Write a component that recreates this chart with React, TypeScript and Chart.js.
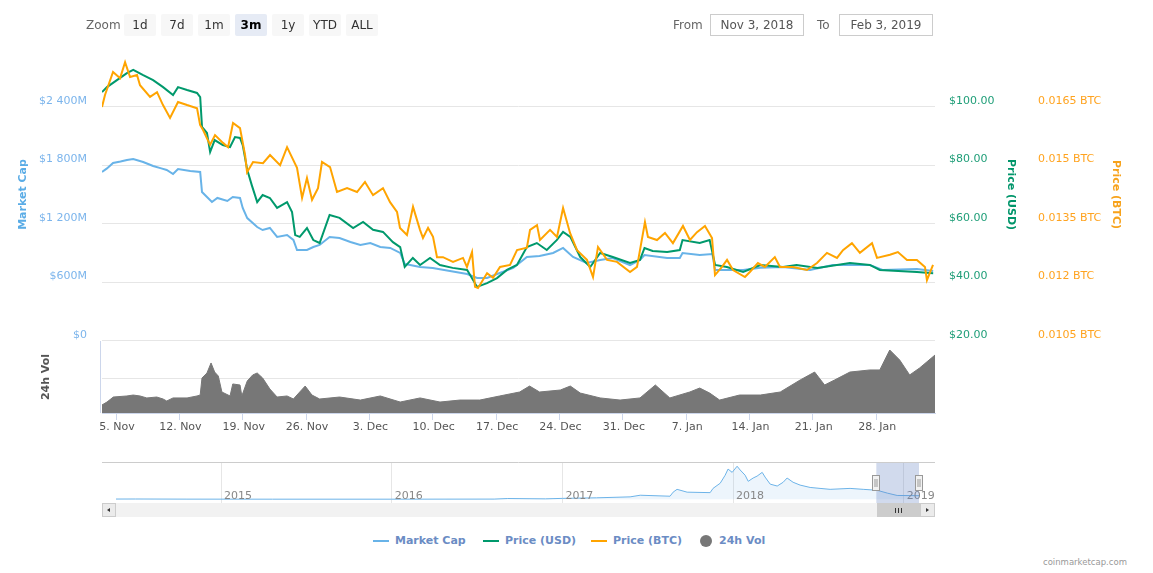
import React, { useEffect, useRef } from 'react';
import { Chart, registerables } from 'chart.js';

Chart.register(...registerables);

const FONT = '"DejaVu Sans", Verdana, sans-serif';

// ---- Data (day 0 = 3 Nov 2018 00:00) ----
const marketCapM: [number, number][] = [
  [0.45, 1733], [1.0, 1770], [1.67, 1826], [2.5, 1840], [3.2, 1856], [3.9, 1867], [5.0, 1836], [6.1, 1795],
  [7.0, 1770], [7.6, 1754], [8.3, 1713], [8.85, 1764], [10.2, 1744], [11.3, 1733], [11.5, 1528], [12.05, 1477],
  [12.6, 1426], [13.2, 1467], [14.3, 1436], [14.9, 1477], [15.7, 1467], [16.0, 1364], [16.5, 1261], [17.6, 1169],
  [18.2, 1138], [19.0, 1159], [19.8, 1067], [20.9, 1087], [21.6, 1036], [22.0, 933], [23.1, 933], [23.8, 964],
  [24.5, 985], [25.6, 1067], [26.7, 1056], [27.9, 1015], [29.0, 985], [30.1, 1005], [31.2, 964], [32.3, 954],
  [33.4, 903], [33.9, 790], [34.5, 779], [35.6, 759], [37.0, 749], [38.9, 718], [40.8, 687], [41.9, 646],
  [43.0, 646], [44.4, 697], [45.9, 749], [47.4, 862], [48.8, 872], [50.3, 903], [51.4, 954], [52.5, 862],
  [54.0, 800], [55.5, 831], [56.9, 851], [58.8, 779], [59.9, 831], [60.4, 882], [62.9, 851], [64.3, 851],
  [64.6, 903], [66.5, 882], [67.9, 892], [68.2, 728], [71.3, 728], [73.2, 750], [75.7, 759], [78.7, 728],
  [81.2, 779], [85.3, 779], [86.7, 728], [90.5, 738], [92.3, 718]
];

const priceUsd: [number, number][] = [
  [0.45, 105.1], [1.0, 106.8], [2.1, 109.2], [3.2, 111.6], [3.9, 112.7], [5.0, 110.9], [6.1, 109.2], [7.2, 106.8],
  [8.3, 104.1], [8.85, 106.8], [9.85, 105.8], [10.95, 104.8], [11.3, 103.4], [11.5, 93.2], [12.05, 91.1], [12.4, 84.6],
  [12.9, 88.7], [13.8, 87.0], [14.6, 86.3], [15.15, 89.7], [15.7, 89.4], [16.0, 87.0], [16.5, 78.5], [17.0, 73.3],
  [17.6, 67.5], [18.2, 69.9], [19.0, 68.9], [19.8, 65.5], [20.9, 67.5], [21.45, 64.1], [21.8, 56.2], [22.3, 55.6],
  [23.1, 58.6], [23.8, 54.5], [24.5, 53.5], [25.6, 63.1], [26.7, 62.1], [28.2, 58.6], [29.3, 60.7], [30.4, 58.0],
  [31.5, 57.3], [32.6, 53.8], [33.4, 52.1], [33.9, 45.3], [34.8, 48.4], [35.6, 46.0], [36.7, 48.4], [37.8, 46.0],
  [39.2, 45.0], [40.8, 44.3], [41.9, 38.5], [43.0, 39.8], [44.1, 41.5], [45.2, 44.3], [46.3, 46.0], [47.4, 52.1],
  [48.5, 53.5], [49.6, 51.1], [50.7, 54.5], [51.4, 57.3], [52.2, 55.6], [53.3, 48.7], [54.4, 45.3], [55.5, 50.1],
  [56.9, 48.7], [58.8, 46.7], [59.9, 47.7], [60.4, 51.8], [61.3, 50.8], [62.9, 50.4], [64.3, 51.1], [64.6, 54.5],
  [66.5, 53.5], [67.6, 54.5], [68.2, 46.0], [69.5, 45.3], [71.3, 43.6], [73.2, 46.0], [75.7, 45.3], [77.2, 46.0],
  [79.5, 45.0], [83.1, 46.7], [85.3, 46.0], [86.4, 44.3], [90.5, 43.6], [92.3, 43.2]
];

const priceBtc: [number, number][] = [
  [0.45, 0.01650], [0.78, 0.01681], [1.67, 0.01740], [2.45, 0.01724], [3.0, 0.01765], [3.55, 0.01727], [4.32, 0.01732],
  [4.65, 0.01706], [5.76, 0.01676], [6.53, 0.01688], [7.19, 0.01655], [7.97, 0.01622], [8.85, 0.01663], [9.85, 0.01655],
  [10.95, 0.01647], [11.29, 0.01604], [11.62, 0.01591], [12.39, 0.01553], [12.94, 0.01578], [13.82, 0.01558],
  [14.38, 0.01547], [14.93, 0.01609], [15.7, 0.01596], [16.26, 0.01527], [16.48, 0.01483], [17.14, 0.01509],
  [18.24, 0.01506], [19.02, 0.01527], [20.13, 0.01501], [20.9, 0.01547], [22.0, 0.01494], [22.56, 0.01417],
  [23.1, 0.01468], [23.66, 0.01412], [24.32, 0.01442], [24.76, 0.01509], [25.65, 0.01496], [26.42, 0.01432],
  [27.53, 0.01442], [28.63, 0.01432], [29.51, 0.01458], [30.4, 0.01424], [31.5, 0.01442], [32.28, 0.01406],
  [33.05, 0.01381], [33.38, 0.01340], [34.15, 0.01322], [34.82, 0.01394], [35.59, 0.01335], [35.92, 0.01314],
  [36.48, 0.01340], [37.03, 0.01317], [37.47, 0.01265], [38.13, 0.01265], [39.24, 0.01253], [40.34, 0.01263],
  [40.78, 0.01240], [41.34, 0.01278], [41.67, 0.01189], [42.0, 0.01186], [43.0, 0.01224], [43.66, 0.01212],
  [44.43, 0.01240], [45.54, 0.01245], [46.31, 0.01283], [47.4, 0.01289], [47.75, 0.01335], [48.52, 0.01347],
  [48.85, 0.01309], [49.96, 0.01335], [50.73, 0.01317], [51.4, 0.01391], [52.17, 0.01327], [52.94, 0.01283],
  [54.04, 0.01258], [54.71, 0.01214], [55.26, 0.01291], [56.26, 0.01258], [57.36, 0.01253], [58.8, 0.01227],
  [59.57, 0.01240], [60.45, 0.01355], [60.78, 0.01317], [61.78, 0.01309], [62.66, 0.01327], [63.54, 0.01301],
  [64.65, 0.01345], [65.42, 0.01309], [66.2, 0.01329], [67.08, 0.01345], [67.86, 0.01314], [68.19, 0.01219],
  [68.96, 0.01240], [69.52, 0.01258], [70.18, 0.01232], [71.5, 0.01214], [72.04, 0.01227], [72.93, 0.01250],
  [73.7, 0.01240], [74.8, 0.01265], [75.37, 0.01240], [76.8, 0.01240], [78.35, 0.01232], [79.46, 0.01250],
  [80.56, 0.01276], [81.67, 0.01263], [82.33, 0.01283], [83.32, 0.01301], [84.2, 0.01276], [85.54, 0.01301],
  [86.09, 0.01263], [87.52, 0.01271], [88.4, 0.01278], [89.4, 0.01258], [90.5, 0.01258], [91.39, 0.01240],
  [91.61, 0.01206], [92.28, 0.01245]
];

const volume24hM: [number, number][] = [
  [0.45, 6.9], [1.0, 9.4], [1.7, 13.7], [3.2, 14.6], [3.9, 15.4], [4.65, 14.6], [5.4, 12.9], [6.5, 13.7], [7.2, 12.0],
  [7.6, 10.3], [8.3, 12.9], [9.85, 12.9], [10.95, 14.6], [11.3, 15.4], [11.5, 30], [12.05, 34.3], [12.5, 42.9],
  [12.9, 35.1], [13.3, 31.7], [13.7, 18.0], [14.6, 14.6], [14.9, 24.9], [15.7, 24], [15.9, 14.6], [16.5, 27.4],
  [17.1, 32.6], [17.6, 34.3], [18.2, 30], [19.0, 20.6], [19.8, 13.7], [20.9, 14.6], [21.6, 12], [22.3, 18],
  [22.9, 23.1], [23.65, 15.4], [24.5, 12], [26.7, 13.7], [29, 11.1], [31.2, 14.6], [33.4, 9.4], [35.6, 12.9],
  [37.8, 9.4], [40, 11.1], [42.2, 11.1], [44.4, 14.6], [46.6, 18], [47.7, 23.1], [48.8, 18], [51.1, 19.7],
  [52.2, 23.1], [53.3, 17.1], [55.5, 12.9], [57.7, 11.1], [59.9, 12.9], [61.6, 24], [63.2, 12.9], [65.4, 18],
  [66.5, 21.4], [67.6, 17.1], [68.7, 11.1], [70.9, 15.4], [73.2, 15.4], [75.4, 18], [77.6, 28.3], [79.2, 35.1],
  [80.3, 24], [81.4, 28.3], [83.1, 35.1], [85.3, 36.9], [86.4, 36.9], [87.5, 54], [88.6, 45.4], [89.7, 32.6],
  [90.8, 38.6], [92.5, 49.7]
];

// Navigator: market cap history, [decimal year, $B]
const navMarketCapB: [number, number][] = [
  [2014.384, 0.04], [2014.5, 0.05], [2014.8, 0.02], [2015.3, 0.01], [2016.0, 0.01], [2016.6, 0.03], [2016.68, 0.15],
  [2016.9, 0.08], [2017.0, 0.18], [2017.2, 0.3], [2017.397, 0.5], [2017.456, 0.85], [2017.631, 0.64], [2017.649, 1.5],
  [2017.672, 2.1], [2017.731, 1.5], [2017.866, 1.4], [2017.883, 2.3], [2017.925, 3.4], [2017.954, 5.1], [2017.971, 6.4],
  [2017.995, 5.7], [2018.024, 7.0], [2018.042, 6.2], [2018.071, 5.1], [2018.089, 3.8], [2018.118, 4.5], [2018.141, 4.9],
  [2018.171, 5.7], [2018.188, 4.7], [2018.218, 3.2], [2018.259, 2.8], [2018.294, 3.6], [2018.317, 4.5], [2018.352, 3.6],
  [2018.393, 3.0], [2018.452, 2.5], [2018.51, 2.3], [2018.569, 2.1], [2018.686, 2.3], [2018.763, 2.1], [2018.845, 1.9],
  [2018.904, 1.3], [2018.962, 0.8], [2019.09, 0.75]
];

// ---- Ticks ----
const dateTickDays = [2, 9, 16, 23, 30, 37, 44, 51, 58, 65, 72, 79, 86];
const dateTickLabels = ['5. Nov', '12. Nov', '19. Nov', '26. Nov', '3. Dec', '10. Dec', '17. Dec', '24. Dec', '31. Dec', '7. Jan', '14. Jan', '21. Jan', '28. Jan'];
const capTicks = [0, 600, 1200, 1800, 2400];
const capTickLabels = ['$0', '$600M', '$1 200M', '$1 800M', '$2 400M'];
const volTicks = [0, 30];
const volTickLabels = ['0', '30M'];
const usdTicks = [20, 40, 60, 80, 100];
const usdTickLabels = ['$20.00', '$40.00', '$60.00', '$80.00', '$100.00'];
const btcTicks = [0.0105, 0.012, 0.0135, 0.015, 0.0165];
const btcTickLabels = ['0.0105 BTC', '0.012 BTC', '0.0135 BTC', '0.015 BTC', '0.0165 BTC'];
const navYears = [2015, 2016, 2017, 2018, 2019];
const navYearLabels = ['2015', '2016', '2017', '2018', '2019'];
const zoomButtons = ['1d', '7d', '1m', '3m', '1y', 'YTD', 'ALL'];
const selectedZoom = '3m';
const rangeFrom = 'Nov 3, 2018';
const rangeTo = 'Feb 3, 2019';
const navRange = [2018.84, 2019.09];

const COLORS = {
  cap: '#68b3e8',
  usd: '#00996c',
  btc: '#ffa400',
  vol: '#777777',
};

const toXY = (arr: [number, number][]) => arr.map(([x, y]) => ({ x, y }));

// axis ranges: main pane + volume pane share one plot area (48..413)
const CAP_MIN = -738.5, CAP_MAX = 3005;
const USD_MIN = -4.615, USD_MAX = 120.17;
const BTC_MIN = 0.008654, BTC_MAX = 0.018013;
const VOL_MIN = 0, VOL_MAX = 312.9;

const tickFont = { family: FONT, size: 11 };

const axisTitlesPlugin = {
  id: 'axisTitles',
  afterDraw(chart: any) {
    const { ctx, scales, chartArea } = chart;
    const cap = scales.yCap;
    const usd = scales.yUsd;
    const btc = scales.yBtc;
    const zeroY = cap.getPixelForValue(0);
    const mainMid = (zeroY + chartArea.top) / 2;
    const volMid = (zeroY + chartArea.bottom) / 2;
    const draw = (text: string, x: number, y: number, ang: number, color: string) => {
      ctx.save();
      ctx.translate(x, y);
      ctx.rotate(ang);
      ctx.font = `bold 11px ${FONT}`;
      ctx.fillStyle = color;
      ctx.textAlign = 'center';
      ctx.textBaseline = 'middle';
      ctx.fillText(text, 0, 0);
      ctx.restore();
    };
    draw('Market Cap', cap.left + 23, mainMid, -Math.PI / 2, '#5aace6');
    draw('24h Vol', cap.left + 46, volMid, -Math.PI / 2, '#555555');
    draw('Price (USD)', usd.right - 13, mainMid, Math.PI / 2, '#00956a');
    draw('Price (BTC)', btc.right - 37, mainMid, Math.PI / 2, '#f7a21b');
    // volume axis line
    ctx.save();
    ctx.strokeStyle = '#ccd6eb';
    ctx.lineWidth = 1;
    ctx.beginPath();
    ctx.moveTo(chartArea.left - 1.5, zeroY);
    ctx.lineTo(chartArea.left - 1.5, chartArea.bottom);
    ctx.stroke();
    ctx.restore();
  },
};

const navMaskPlugin = {
  id: 'navMask',
  afterDraw(chart: any) {
    const { ctx, scales, width, height } = chart;
    const x = scales.x;
    // year labels
    ctx.save();
    ctx.font = `11px ${FONT}`;
    ctx.fillStyle = '#888888';
    ctx.textAlign = 'left';
    ctx.textBaseline = 'alphabetic';
    navYears.forEach((yr, i) => {
      ctx.fillText(navYearLabels[i], x.getPixelForValue(yr) + 3, 37);
    });
    ctx.restore();

    const l = x.getPixelForValue(navRange[0]);
    const r = x.getPixelForValue(navRange[1]);
    ctx.save();
    ctx.fillStyle = 'rgba(102,133,194,0.3)';
    ctx.fillRect(l, 0, r - l, height);
    ctx.strokeStyle = '#cccccc';
    ctx.lineWidth = 1;
    ctx.beginPath();
    ctx.moveTo(0, 0.5);
    ctx.lineTo(width, 0.5);
    ctx.stroke();
    for (const hx of [l, r]) {
      const px = Math.round(hx) - 3.5;
      ctx.fillStyle = '#f2f2f2';
      ctx.strokeStyle = '#999999';
      ctx.fillRect(px, 13.5, 7, 15);
      ctx.strokeRect(px, 13.5, 7, 15);
      ctx.beginPath();
      ctx.moveTo(px + 2.5, 17);
      ctx.lineTo(px + 2.5, 25);
      ctx.moveTo(px + 4.5, 17);
      ctx.lineTo(px + 4.5, 25);
      ctx.stroke();
    }
    ctx.restore();
  },
};

export default function App() {
  const mainRef = useRef<HTMLCanvasElement>(null);
  const navRef = useRef<HTMLCanvasElement>(null);

  useEffect(() => {
    const main = new Chart(mainRef.current as HTMLCanvasElement, {
      type: 'line',
      data: {
        datasets: [
          { label: 'Price (BTC)', data: toXY(priceBtc), yAxisID: 'yBtc', borderColor: COLORS.btc, borderWidth: 2, pointRadius: 0, tension: 0, order: 1 },
          { label: 'Price (USD)', data: toXY(priceUsd), yAxisID: 'yUsd', borderColor: COLORS.usd, borderWidth: 2, pointRadius: 0, tension: 0, order: 2 },
          { label: 'Market Cap', data: toXY(marketCapM), yAxisID: 'yCap', borderColor: COLORS.cap, borderWidth: 2, pointRadius: 0, tension: 0, order: 3 },
          { label: '24h Vol', data: toXY(volume24hM), yAxisID: 'yVol', borderColor: COLORS.vol, backgroundColor: COLORS.vol, borderWidth: 1, fill: 'origin', pointRadius: 0, tension: 0, order: 4 },
        ] as any,
      },
      options: {
        responsive: false,
        animation: false,
        events: [],
        layout: { padding: { top: 48, left: 0, right: 0, bottom: 0 } },
        plugins: { legend: { display: false }, tooltip: { enabled: false } },
        scales: {
          x: {
            type: 'linear',
            position: 'bottom',
            min: 0.45,
            max: 92.5,
            afterBuildTicks: (s: any) => { s.ticks = dateTickDays.map((v) => ({ value: v })); },
            afterFit: (s: any) => { s.height = 32; },
            ticks: { autoSkip: false, maxRotation: 0, padding: 1, labelOffset: 1, color: '#555555', font: tickFont, callback: (_v: any, i: number) => dateTickLabels[i] },
            grid: { drawOnChartArea: false, drawTicks: true, tickLength: 7, tickColor: '#ccd6eb' },
            border: { display: true, color: '#ccd6eb' },
          },
          yCap: {
            type: 'linear',
            position: 'left',
            weight: 2,
            min: CAP_MIN,
            max: CAP_MAX,
            afterBuildTicks: (s: any) => { s.ticks = capTicks.map((v) => ({ value: v })); },
            afterFit: (s: any) => { s.width = 102; },
            ticks: { padding: 15, labelOffset: -6, color: '#7cb5ec', font: tickFont, callback: (_v: any, i: number) => capTickLabels[i] },
            grid: { color: '#e6e6e6', drawTicks: false },
            border: { display: false },
          },
          yVol: {
            type: 'linear',
            position: 'left',
            weight: 1,
            min: VOL_MIN,
            max: VOL_MAX,
            afterBuildTicks: (s: any) => { s.ticks = volTicks.map((v) => ({ value: v })); },
            afterFit: (s: any) => { s.width = 0; },
            ticks: { padding: 17, labelOffset: -6, color: '#666666', font: tickFont, callback: (_v: any, i: number) => volTickLabels[i] },
            grid: { color: (c: any) => (c.tick && c.tick.value === 0 ? 'rgba(0,0,0,0)' : '#e6e6e6'), drawTicks: false },
            border: { display: false },
          },
          yUsd: {
            type: 'linear',
            position: 'right',
            weight: 1,
            min: USD_MIN,
            max: USD_MAX,
            afterBuildTicks: (s: any) => { s.ticks = usdTicks.map((v) => ({ value: v })); },
            afterFit: (s: any) => { s.width = 89; },
            ticks: { padding: 14, labelOffset: -6, color: '#1f9e78', font: tickFont, callback: (_v: any, i: number) => usdTickLabels[i] },
            grid: { display: false, drawTicks: false },
            border: { display: false },
          },
          yBtc: {
            type: 'linear',
            position: 'right',
            weight: 2,
            min: BTC_MIN,
            max: BTC_MAX,
            afterBuildTicks: (s: any) => { s.ticks = btcTicks.map((v) => ({ value: v })); },
            afterFit: (s: any) => { s.width = 129; },
            ticks: { padding: 14, labelOffset: -6, color: '#ffa31f', font: tickFont, callback: (_v: any, i: number) => btcTickLabels[i] },
            grid: { display: false, drawTicks: false },
            border: { display: false },
          },
        },
      } as any,
      plugins: [axisTitlesPlugin],
    });

    const nav = new Chart(navRef.current as HTMLCanvasElement, {
      type: 'line',
      data: {
        datasets: [
          { data: toXY(navMarketCapB), borderColor: '#6cb3e8', borderWidth: 1, backgroundColor: 'rgba(124,181,236,0.14)', fill: 'origin', pointRadius: 0, tension: 0 },
        ] as any,
      },
      options: {
        responsive: false,
        animation: false,
        events: [],
        layout: { padding: { left: 14, right: 16, top: 0, bottom: 0 } },
        plugins: { legend: { display: false }, tooltip: { enabled: false } },
        scales: {
          x: {
            type: 'linear',
            min: 2014.384,
            max: 2019.09,
            afterBuildTicks: (s: any) => { s.ticks = navYears.map((v) => ({ value: v })); },
            afterFit: (s: any) => { s.height = 0; },
            ticks: { display: false },
            grid: { color: '#e6e6e6', drawTicks: false },
            border: { display: false },
          },
          y: { display: false, min: -0.8, max: 7.9 },
        },
      } as any,
      plugins: [navMaskPlugin],
    });

    return () => {
      main.destroy();
      nav.destroy();
    };
  }, []);

  const abs = (s: React.CSSProperties): React.CSSProperties => ({ position: 'absolute', ...s });

  return (
    <div style={{ position: 'absolute', left: 0, top: 0, width: 1153, height: 573, fontFamily: FONT, background: '#fff', overflow: 'hidden' }}>
      <canvas ref={mainRef} width={1153} height={445} style={abs({ left: 0, top: 0, width: 1153, height: 445 })} />

      {/* range selector */}
      <div style={abs({ left: 86, top: 14, height: 22, lineHeight: '22px', fontSize: 12, color: '#666' })}>Zoom</div>
      {zoomButtons.map((b, i) => (
        <div
          key={b}
          style={abs({
            left: 124 + 37 * i, top: 14, width: 32, height: 22, lineHeight: '22px', textAlign: 'center', fontSize: 12,
            borderRadius: 2, color: b === selectedZoom ? '#000' : '#333',
            background: b === selectedZoom ? '#e6ebf5' : '#f7f7f7', fontWeight: b === selectedZoom ? 'bold' : 'normal',
          })}
        >
          {b}
        </div>
      ))}
      <div style={abs({ left: 673, top: 14, height: 22, lineHeight: '22px', fontSize: 12, color: '#666' })}>From</div>
      <div style={abs({ left: 710, top: 14, width: 94, height: 22, lineHeight: '20px', boxSizing: 'border-box', border: '1px solid #cccccc', textAlign: 'center', fontSize: 12, color: '#555' })}>{rangeFrom}</div>
      <div style={abs({ left: 817, top: 14, height: 22, lineHeight: '22px', fontSize: 12, color: '#666' })}>To</div>
      <div style={abs({ left: 839, top: 14, width: 94, height: 22, lineHeight: '20px', boxSizing: 'border-box', border: '1px solid #cccccc', textAlign: 'center', fontSize: 12, color: '#555' })}>{rangeTo}</div>

      {/* navigator */}
      <canvas ref={navRef} width={833} height={41} style={abs({ left: 102, top: 462, width: 833, height: 41 })} />
      {/* scrollbar */}
      <div style={abs({ left: 102, top: 503, width: 833, height: 14, background: '#f2f2f2' })} />
      <div style={abs({ left: 102, top: 503, width: 14, height: 14, boxSizing: 'border-box', background: '#ebebeb', border: '1px solid #cccccc' })}>
        <div style={abs({ left: 4, top: 4, width: 0, height: 0, borderTop: '2.5px solid transparent', borderBottom: '2.5px solid transparent', borderRight: '3px solid #333' })} />
      </div>
      <div style={abs({ left: 877, top: 503, width: 43, height: 14, boxSizing: 'border-box', background: '#cccccc', border: '1px solid #cccccc' })}>
        {[0, 1, 2].map((k) => (
          <div key={k} style={abs({ left: 17 + k * 3, top: 4, width: 1, height: 5, background: '#333' })} />
        ))}
      </div>
      <div style={abs({ left: 920, top: 503, width: 15, height: 14, boxSizing: 'border-box', background: '#ebebeb', border: '1px solid #cccccc' })}>
        <div style={abs({ left: 5, top: 4, width: 0, height: 0, borderTop: '2.5px solid transparent', borderBottom: '2.5px solid transparent', borderLeft: '3px solid #333' })} />
      </div>

      {/* legend */}
      <div style={abs({ left: 373, top: 540, width: 16, height: 2, background: COLORS.cap })} />
      <div style={abs({ left: 395, top: 533, height: 16, lineHeight: '16px', fontSize: 11, fontWeight: 'bold', color: '#6b8cc4', whiteSpace: 'nowrap' })}>Market Cap</div>
      <div style={abs({ left: 483, top: 540, width: 16, height: 2, background: COLORS.usd })} />
      <div style={abs({ left: 505, top: 533, height: 16, lineHeight: '16px', fontSize: 11, fontWeight: 'bold', color: '#6b8cc4', whiteSpace: 'nowrap' })}>Price (USD)</div>
      <div style={abs({ left: 591, top: 540, width: 16, height: 2, background: COLORS.btc })} />
      <div style={abs({ left: 613, top: 533, height: 16, lineHeight: '16px', fontSize: 11, fontWeight: 'bold', color: '#6b8cc4', whiteSpace: 'nowrap' })}>Price (BTC)</div>
      <div style={abs({ left: 700, top: 535, width: 12, height: 12, borderRadius: 6, background: COLORS.vol })} />
      <div style={abs({ left: 719, top: 533, height: 16, lineHeight: '16px', fontSize: 11, fontWeight: 'bold', color: '#6b8cc4', whiteSpace: 'nowrap' })}>24h Vol</div>

      {/* credit */}
      <div style={abs({ left: 1043, top: 556, height: 12, lineHeight: '12px', fontSize: 8.5, color: '#999', whiteSpace: 'nowrap' })}>coinmarketcap.com</div>
    </div>
  );
}
